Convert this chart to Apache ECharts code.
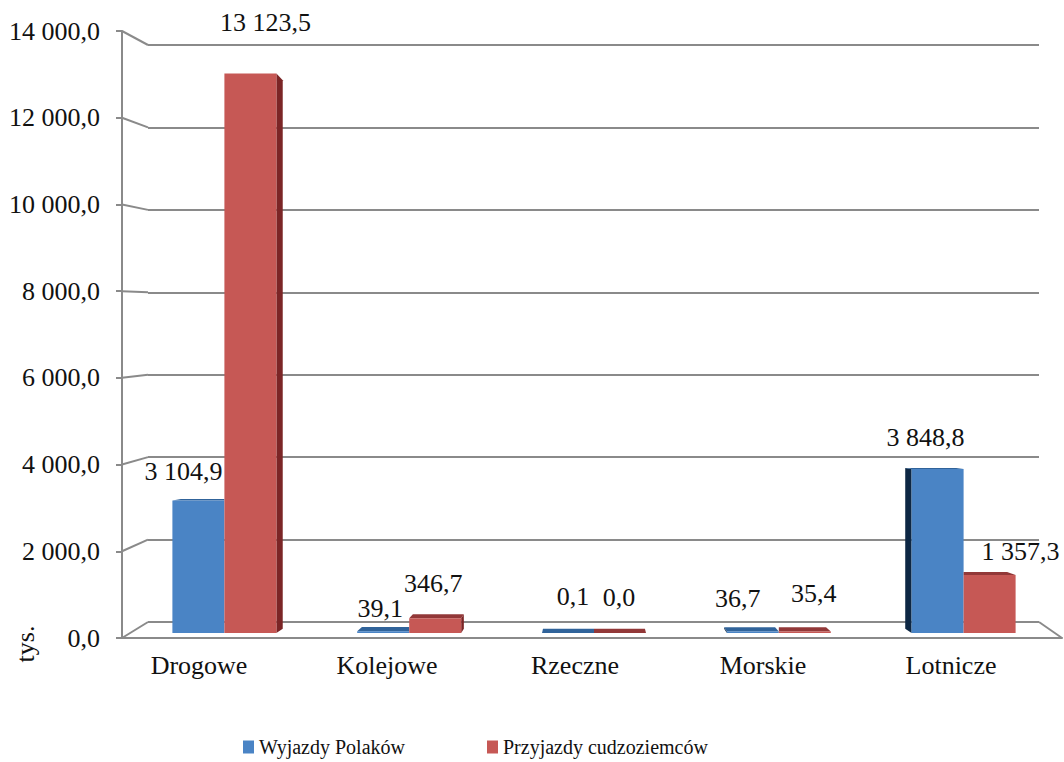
<!DOCTYPE html>
<html>
<head>
<meta charset="utf-8">
<script src="https://cdn.jsdelivr.net/npm/echarts@6/dist/echarts.min.js"></script>
<style>
  html, body { margin: 0; padding: 0; background: #fff; }
  #chart { width: 1064px; height: 762px; }
</style>
</head>
<body>
<div id="chart"></div>
<script>
var categories = ['Drogowe', 'Kolejowe', 'Rzeczne', 'Morskie', 'Lotnicze'];
var seriesNames = ['Wyjazdy Polaków', 'Przyjazdy cudzoziemców'];
var wyjazdy = [3104.9, 39.1, 0.1, 36.7, 3848.8];
var przyjazdy = [13123.5, 346.7, 0.0, 35.4, 1357.3];
var yMin = 0, yMax = 14000, yStep = 2000;
var unitLabel = 'tys.';

// label nudges [dx, dy] from the bar top, per series (Excel puts them a bit off)
var labelShift = [
  [[-15, -29], [-3, -23], [5, -36], [-15, -33], [-12, -31]],
  [[15, -51], [-2, -35], [-1, -36], [9, -38], [31, -24]]
];

var font = 'Liberation Serif';
var ink = '#111';
var gridColor = '#8a8a8a';
var front = ['#4a84c5', '#c65855'];
var topFace = ['#30639a', '#923838'];
var sideFace = ['#0d2744', '#7b2526'];

// 3D look: front plane, back wall, bars in between
var frontGrid = { left: 122, right: 2, top: 31, bottom: 124 };
var backGrid = { left: 148, right: 25, top: 45, bottom: 140 };
var barGrid = { left: 132, right: 8, top: 36, bottom: 129 };
var vp = [593, 420];
var depth = 0.02;
var barRatio = 0.2814;

function fmt(v) {
  var s = v.toFixed(1).split('.');
  s[0] = s[0].replace(/\B(?=(\d{3})+(?!\d))/g, ' ');
  return s[0] + ',' + s[1];
}

function makeRender(si) {
  return function(params, api) {
    var idx = api.value(0), v = api.value(1);
    var top = api.coord([idx, v]), base = api.coord([idx, 0]);
    var bw = api.size([1, 0])[0] * barRatio;
    var x0 = si === 0 ? top[0] - bw : top[0];
    var x1 = x0 + bw, y0 = top[1], y1 = base[1];
    function back(x, y) { return [x + (vp[0] - x) * depth, y + (vp[1] - y) * depth]; }
    var kids = [];
    if (si === 0 && vp[0] < x0) {
      kids.push({ type: 'polygon', shape: { points: [[x0, y0], [x0, y1], back(x0, y1), back(x0, y0)] },
        style: { fill: sideFace[si] } });
    }
    if (si === 1 && vp[0] > x1) {
      kids.push({ type: 'polygon', shape: { points: [[x1, y0], [x1, y1], back(x1, y1), back(x1, y0)] },
        style: { fill: sideFace[si] } });
    }
    if (y0 > vp[1]) {
      var bl = back(x0, y0), br = back(x1, y0);
      if (si === 0) br[0] = Math.min(br[0], x1);
      if (si === 1) bl[0] = Math.max(bl[0], x0);
      kids.push({ type: 'polygon', shape: { points: [[x0, y0], [x1, y0], br, bl] },
        style: { fill: topFace[si] } });
    }
    kids.push({ type: 'rect', shape: { x: x0, y: y0, width: bw, height: Math.max(y1 - y0, 0) },
      style: { fill: front[si] } });
    var sh = labelShift[si][idx];
    kids.push({ type: 'text', x: (x0 + x1) / 2 + sh[0], y: y0 + sh[1], z2: 10,
      style: { text: fmt(v), fill: ink, fontSize: 26, fontFamily: font, align: 'center', verticalAlign: 'middle' } });
    return { type: 'group', children: kids };
  };
}

function seriesData(arr) {
  return arr.map(function(v, i) { return [i, v]; });
}

var chart = echarts.init(document.getElementById('chart'), null, { renderer: 'svg' });
chart.setOption({
  animation: false,
  textStyle: { fontFamily: font },
  legend: {
    data: seriesNames,
    left: 238, top: 732,
    icon: 'rect', itemWidth: 11, itemHeight: 13, itemGap: 82,
    textStyle: { color: ink, fontSize: 20, fontFamily: font }
  },
  grid: [
    Object.assign({ containLabel: false }, frontGrid),
    Object.assign({ containLabel: false }, backGrid),
    Object.assign({ containLabel: false }, barGrid)
  ],
  xAxis: [
    {
      gridIndex: 0, type: 'category', data: categories, boundaryGap: true,
      axisLine: { lineStyle: { color: gridColor, width: 2 } },
      axisTick: { length: 7, lineStyle: { color: gridColor, width: 2 } },
      axisLabel: { color: ink, fontSize: 26, fontFamily: font, margin: 14, padding: [0, 34, 0, 0] }
    },
    { gridIndex: 1, type: 'category', data: categories, show: false },
    { gridIndex: 2, type: 'category', data: categories, show: false }
  ],
  yAxis: [
    {
      gridIndex: 0, type: 'value', min: yMin, max: yMax, interval: yStep,
      axisLine: { show: true, lineStyle: { color: gridColor, width: 2 } },
      axisTick: { show: true, length: 6, lineStyle: { color: gridColor, width: 2 } },
      splitLine: { show: false },
      axisLabel: { color: ink, fontSize: 26, fontFamily: font, margin: 22, formatter: fmt }
    },
    {
      gridIndex: 1, type: 'value', min: yMin, max: yMax, interval: yStep,
      axisLine: { show: false }, axisTick: { show: false }, axisLabel: { show: false },
      splitLine: { lineStyle: { color: gridColor, width: 2 } }
    },
    { gridIndex: 2, type: 'value', min: yMin, max: yMax, show: false, splitLine: { show: false } }
  ],
  series: [0, 1].map(function(si) {
    return {
      name: seriesNames[si], type: 'custom', xAxisIndex: 2, yAxisIndex: 2,
      itemStyle: { color: front[si] },
      renderItem: makeRender(si),
      encode: { x: 0, y: 1 },
      data: seriesData(si === 0 ? wyjazdy : przyjazdy)
    };
  })
});

// perspective connectors between the front axis and the back wall
var fx0 = frontGrid.left, fx1 = 1064 - frontGrid.right;
var bx0 = backGrid.left, bx1 = 1064 - backGrid.right;
var links = [];
for (var v = yMin; v <= yMax; v += yStep) {
  links.push({ type: 'line', silent: true,
    shape: { x1: fx0, y1: chart.convertToPixel({ yAxisIndex: 0 }, v), x2: bx0, y2: chart.convertToPixel({ yAxisIndex: 1 }, v) },
    style: { stroke: gridColor, lineWidth: 2 } });
}
links.push({ type: 'line', silent: true,
  shape: { x1: bx1, y1: chart.convertToPixel({ yAxisIndex: 1 }, yMin), x2: fx1, y2: chart.convertToPixel({ yAxisIndex: 0 }, yMin) },
  style: { stroke: gridColor, lineWidth: 2 } });
links.push({ type: 'text', x: 25, y: 644, rotation: Math.PI / 2,
  style: { text: unitLabel, fill: ink, fontSize: 26, fontFamily: font, align: 'center', verticalAlign: 'middle' } });
chart.setOption({ graphic: links });
</script>
</body>
</html>
